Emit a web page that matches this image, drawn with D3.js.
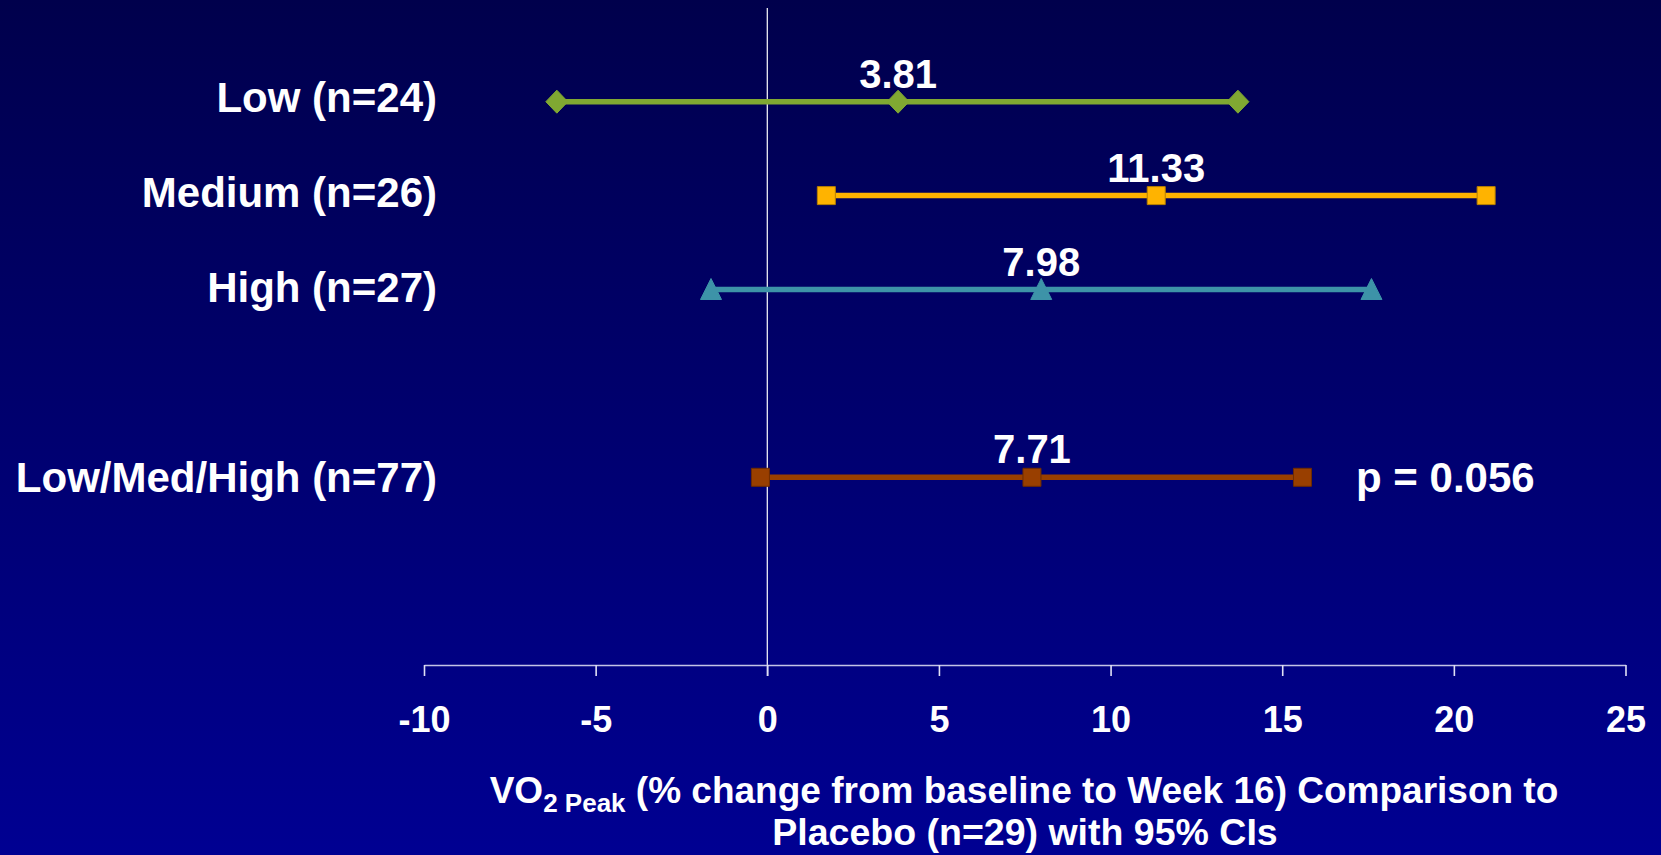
<!DOCTYPE html>
<html>
<head>
<meta charset="utf-8">
<script src="https://cdn.jsdelivr.net/npm/d3@7"></script>
<style>
html,body{margin:0;padding:0;background:#00006a;}
svg{display:block;}
text{font-family:"Liberation Sans",Arial,sans-serif;font-weight:bold;fill:#fff;}
</style>
</head>
<body>
<svg id="chart" width="1661" height="855"></svg>
<script>
// ---- data ----
const categories = ["Low (n=24)", "Medium (n=26)", "High (n=27)", "", "Low/Med/High (n=77)"];
const groups     = ["Low (n=24)", "Medium (n=26)", "High (n=27)", "Low/Med/High (n=77)"];
const estimates  = [3.81, 11.33, 7.98, 7.71];
const lowerCI    = [-6.13, 1.72, -1.64, -0.2];
const upperCI    = [13.71, 20.94, 17.6, 15.59];
const valueLabels = ["3.81", "11.33", "7.98", "7.71"];
const markers    = ["diamond", "square", "triangle", "square"];
const colors     = ["#80A832", "#FFB300", "#3D93A8", "#993F00"];
const strokes    = ["#80A832", "#B88000", "#3D93A8", "#6E2C00"];
const xTicks     = [-10, -5, 0, 5, 10, 15, 20, 25];
const pValueText = "p = 0.056";

// ---- layout ----
const svg = d3.select("#chart");
const W = 1661, H = 855;

const defs = svg.append("defs");
const grad = defs.append("linearGradient").attr("id","bg").attr("x1",0).attr("y1",0).attr("x2",0).attr("y2",1);
grad.append("stop").attr("offset","0%").attr("stop-color","#00004C");
grad.append("stop").attr("offset","100%").attr("stop-color","#000092");
svg.append("rect").attr("width",W).attr("height",H).attr("fill","url(#bg)");

const x = d3.scaleLinear().domain([-10, 25]).range([424, 1625.5]);
const y = d3.scalePoint().domain(categories).range([101.7, 477.3]);
const yLab = d3.scalePoint().domain(categories).range([111.7, 492]);
const axisY = 665;

// zero reference line
svg.append("line")
  .attr("x1", x(0)).attr("x2", x(0))
  .attr("y1", 8).attr("y2", axisY + 11)
  .attr("stroke", "#ffffff").attr("stroke-width", 1.2);

// x axis
const axis = svg.append("g").attr("transform", `translate(0,${axisY})`)
  .call(d3.axisBottom(x).tickValues(xTicks).tickSize(11).tickSizeOuter(0).tickPadding(30)
        .tickFormat(d => String(d)));
axis.select(".domain").attr("stroke", "#C4C4E6").attr("stroke-width", 1.6);
axis.selectAll(".tick line").attr("stroke", "#E0E0F4").attr("stroke-width", 1.6);
axis.selectAll(".tick text")
  .attr("font-size", 36).attr("fill", "#fff")
  .style("font-family", '"Liberation Sans",Arial,sans-serif').style("font-weight", "bold")
  .attr("dy", null).attr("y", 731.7 - axisY).attr("dominant-baseline", "auto");

// category labels
svg.selectAll("text.cat").data(groups).join("text")
  .attr("class", "cat")
  .attr("x", 437).attr("y", d => yLab(d))
  .attr("text-anchor", "end").attr("font-size", 42)
  .text(d => d);

// CI lines and markers
const rows = groups.map((g, i) => ({g, i, est: estimates[i], lo: lowerCI[i], hi: upperCI[i]}));

const sym = {
  diamond: "M0,-11.5L11,0L0,11.5L-11,0Z",
  square: "M-9,-9H9V9H-9Z",
  triangle: "M0,-11L10.5,10H-10.5Z"
};

const rowG = svg.selectAll("g.row").data(rows).join("g").attr("class", "row");
rowG.append("line")
  .attr("x1", d => x(d.lo)).attr("x2", d => x(d.hi))
  .attr("y1", d => y(d.g)).attr("y2", d => y(d.g))
  .attr("stroke", d => colors[d.i]).attr("stroke-width", 5.5);

rowG.each(function(d) {
  const g = d3.select(this);
  [d.lo, d.est, d.hi].forEach(v => {
    g.append("path")
      .attr("d", sym[markers[d.i]])
      .attr("transform", `translate(${x(v)},${y(d.g)})`)
      .attr("fill", colors[d.i])
      .attr("stroke", strokes[d.i]).attr("stroke-width", 1);
  });
});

// value labels
rowG.append("text")
  .attr("x", d => x(d.est)).attr("y", d => y(d.g) - 14)
  .attr("text-anchor", "middle").attr("font-size", 40)
  .text(d => valueLabels[d.i]);

// p-value
svg.append("text")
  .attr("x", 1356).attr("y", yLab(groups[3]))
  .attr("font-size", 42)
  .text(pValueText);

// axis title
const t1 = svg.append("text").attr("x", 1024).attr("y", 803).attr("text-anchor", "middle").attr("font-size", 37);
t1.append("tspan").text("VO");
t1.append("tspan").attr("font-size", 26).attr("dy", 9).text("2 Peak");
t1.append("tspan").attr("dy", -9).text(" (% change from baseline to Week 16) Comparison to");
svg.append("text").attr("x", 1025).attr("y", 845).attr("text-anchor", "middle").attr("font-size", 37.5)
  .text("Placebo (n=29) with 95% CIs");
</script>
</body>
</html>
